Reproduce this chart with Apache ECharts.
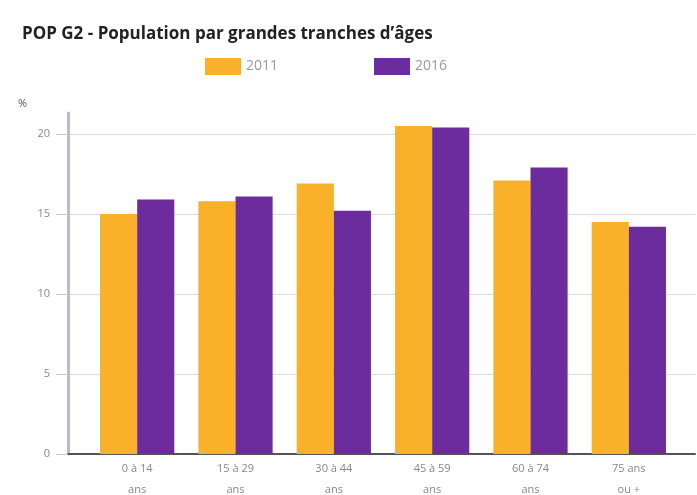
<!DOCTYPE html>
<html><head><meta charset="utf-8">
<script src="https://cdn.jsdelivr.net/npm/echarts@6/dist/echarts.min.js"></script>
<style>html,body{margin:0;padding:0;background:#fff}#c{width:697px;height:495px}</style>
</head><body><div id="c"></div>
<script>
const categories = ["0 à 14\nans", "15 à 29\nans", "30 à 44\nans", "45 à 59\nans", "60 à 74\nans", "75 ans\nou +"];
const values2011 = [15.0, 15.8, 16.9, 20.5, 17.1, 14.5];
const values2016 = [15.9, 16.1, 15.2, 20.4, 17.9, 14.2];
const yTicks = [0, 5, 10, 15, 20];
const seriesNames = ["2011", "2016"];

const chart = echarts.init(document.getElementById('c'), null, {renderer: 'canvas'});
const yMin = yTicks[0], yMax = yTicks[yTicks.length - 1], yStep = yTicks[1] - yTicks[0];
// bar grid extends 21px above the top tick (16px per unit)
const barMax = yMax + 21 / 16;
chart.setOption({
  animation: false,
  backgroundColor: '#fff',
  title: [
    {text: 'POP G2 - Population par grandes tranches d\u2019âges', left: 17, top: 21,
     textStyle: {fontFamily: 'Open Sans', fontWeight: 'bold', fontSize: 17, color: '#222'}},
    {text: '%', left: 13, top: 93, textStyle: {fontFamily: 'Open Sans', fontWeight: 'normal', fontSize: 11, color: '#555'}}
  ],
  legend: {
    data: seriesNames, top: 53, left: 200, itemWidth: 36, itemHeight: 17, itemGap: 96,
    icon: 'rect',
    textStyle: {fontFamily: 'Open Sans', fontSize: 14, color: '#999'}
  },
  grid: [
    {left: 88, right: 19, top: 113, bottom: 41, outerBoundsMode: 'none', containLabel: false},
    {left: 68, right: 2, top: 134, bottom: 41, outerBoundsMode: 'none', containLabel: false},
    {left: 68, right: 2, top: 113, bottom: 41, outerBoundsMode: 'none', containLabel: false}
  ],
  xAxis: [
    {type: 'category', gridIndex: 0, data: categories,
     axisLine: {show: false}, axisTick: {show: false},
     axisLabel: {fontFamily: 'Open Sans', fontSize: 11, color: '#888', margin: 4, lineHeight: 21, interval: 0}},
    {type: 'value', gridIndex: 1, axisLine: {show: true, lineStyle: {color: '#555', width: 2}},
     axisLabel: {show: false}, axisTick: {show: false}, splitLine: {show: false}},
    {type: 'value', gridIndex: 2, show: false}
  ],
  yAxis: [
    {type: 'value', gridIndex: 0, min: yMin, max: barMax, show: false},
    {type: 'value', gridIndex: 1, min: yMin, max: yMax, interval: yStep,
     axisLine: {show: false},
     axisTick: {show: true, length: 12, lineStyle: {color: '#c8c8c8'}},
     axisLabel: {fontFamily: 'Open Sans', fontSize: 11, color: '#888', margin: 18},
     splitLine: {show: true, lineStyle: {color: '#dcdcdc', width: 1}}},
    {type: 'value', gridIndex: 2, axisLine: {show: true, lineStyle: {color: '#bdb9d2', width: 3}},
     axisLabel: {show: false}, axisTick: {show: false}, splitLine: {show: false}}
  ],
  series: [
    {name: seriesNames[0], type: 'bar', xAxisIndex: 0, yAxisIndex: 0, data: values2011,
     barGap: '0%', barCategoryGap: '24.5%', itemStyle: {color: '#fbb02a'}},
    {name: seriesNames[1], type: 'bar', xAxisIndex: 0, yAxisIndex: 0, data: values2016,
     barGap: '0%', barCategoryGap: '24.5%', itemStyle: {color: '#6c2c9e'}}
  ]
});
</script></body></html>
